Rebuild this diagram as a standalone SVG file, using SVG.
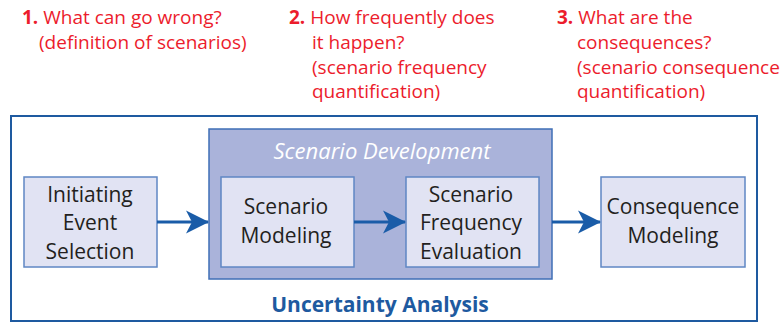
<svg xmlns="http://www.w3.org/2000/svg" width="781" height="323" viewBox="0 0 781 323">
<defs>
<marker id="arr" viewBox="0 0 24 24" refX="22" refY="12" markerWidth="24" markerHeight="24" markerUnits="userSpaceOnUse" orient="auto">
<path d="M0,0.5 L23,12 L0,23.5 L6,12 Z" fill="#1a5ca8"/>
</marker>
<style>
.q{font-family:"Open Sans","Liberation Sans",sans-serif;font-size:19px;fill:#ec1c2c}
.qn{font-weight:bold}
.box{fill:#e1e3f3;stroke:#5f87c4;stroke-width:1.5}
.bt{font-family:"Open Sans","Liberation Sans",sans-serif;font-size:21px;fill:#231f20;text-anchor:middle}
.edge{stroke:#1a5ca8;stroke-width:3;fill:none;marker-end:url(#arr)}
</style>
</defs>
<rect width="781" height="323" fill="#ffffff"/>
<g id="q1">
<text class="q" x="22" y="24"><tspan class="qn">1.</tspan> What can go wrong?</text>
<text class="q" x="39" y="49">(definition of scenarios)</text>
</g>
<g id="q2">
<text class="q" x="289" y="24"><tspan class="qn">2.</tspan> How frequently does</text>
<text class="q" x="312" y="49">it happen?</text>
<text class="q" x="312" y="74">(scenario frequency</text>
<text class="q" x="312" y="98">quantification)</text>
</g>
<g id="q3">
<text class="q" x="557" y="24"><tspan class="qn">3.</tspan> What are the</text>
<text class="q" x="577" y="49">consequences?</text>
<text class="q" x="577" y="74">(scenario consequence</text>
<text class="q" x="577" y="98">quantification)</text>
</g>
<g id="uncertainty">
<rect x="11" y="116" width="746" height="205" fill="none" stroke="#1e5aa0" stroke-width="2"/>
<text x="380" y="312" font-family="'Open Sans','Liberation Sans',sans-serif" font-size="21" font-weight="bold" fill="#1e5aa0" text-anchor="middle">Uncertainty Analysis</text>
</g>
<g id="scenario-development">
<rect x="209" y="129" width="343" height="150" fill="#aab3da" stroke="#3f6fb6" stroke-width="1.5"/>
<text x="382" y="159" font-family="'Open Sans','Liberation Sans',sans-serif" font-size="22" font-style="italic" fill="#ffffff" text-anchor="middle">Scenario Development</text>
</g>
<g id="initiating">
<rect class="box" x="24" y="177" width="133" height="90"/>
<text class="bt" x="90" y="202">Initiating</text>
<text class="bt" x="90" y="230">Event</text>
<text class="bt" x="90" y="259">Selection</text>
</g>
<g id="scenario-modeling">
<rect class="box" x="221" y="177" width="133" height="90"/>
<text class="bt" x="286" y="214">Scenario</text>
<text class="bt" x="286" y="243">Modeling</text>
</g>
<g id="frequency">
<rect class="box" x="406" y="177" width="133" height="90"/>
<text class="bt" x="471" y="202">Scenario</text>
<text class="bt" x="471" y="230">Frequency</text>
<text class="bt" x="471" y="259">Evaluation</text>
</g>
<g id="consequence">
<rect class="box" x="601" y="177" width="144" height="90"/>
<text class="bt" x="673" y="214">Consequence</text>
<text class="bt" x="673" y="243">Modeling</text>
</g>
<g id="connectors">
<line class="edge" x1="157" y1="222" x2="208" y2="222"/>
<line class="edge" x1="354" y1="222" x2="405" y2="222"/>
<line class="edge" x1="552" y1="222" x2="600" y2="222"/>
</g>
</svg>
